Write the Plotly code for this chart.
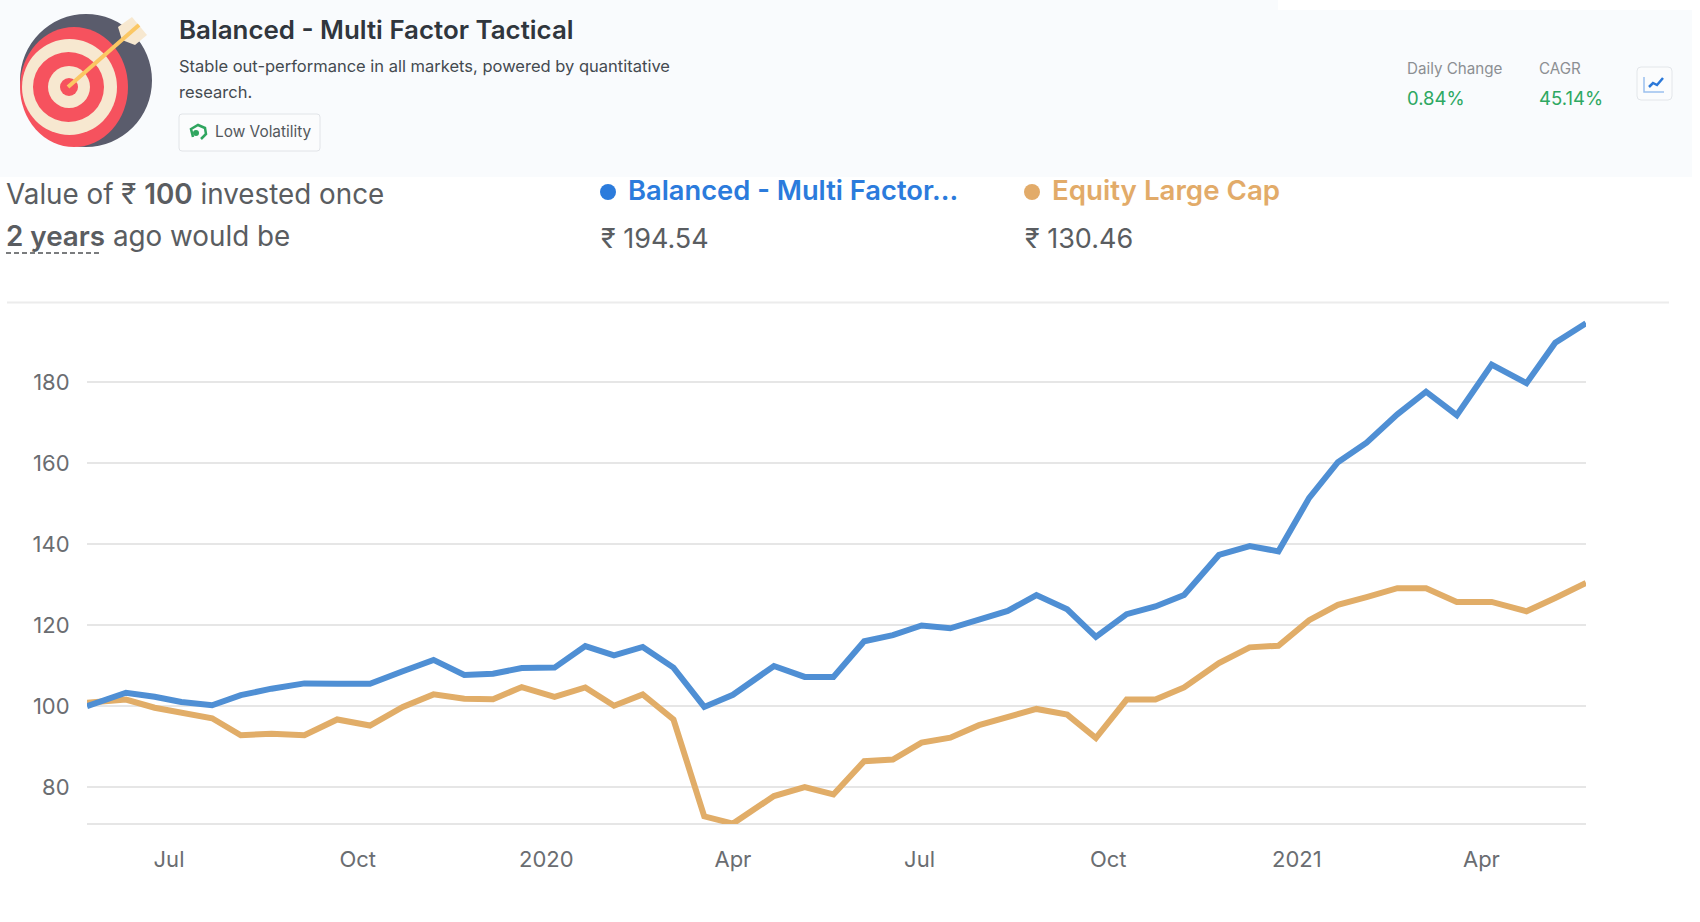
import plotly.graph_objects as go

dates = ["2019-05-22","2019-06-10","2019-06-24","2019-07-07","2019-07-22","2019-08-05","2019-08-20","2019-09-05","2019-09-21","2019-10-07","2019-10-23","2019-11-07","2019-11-22","2019-12-06","2019-12-20","2020-01-05","2020-01-20","2020-02-03","2020-02-17","2020-03-03","2020-03-18","2020-04-01","2020-04-21","2020-05-06","2020-05-20","2020-06-04","2020-06-18","2020-07-02","2020-07-16","2020-07-30","2020-08-13","2020-08-27","2020-09-11","2020-09-25","2020-10-10","2020-10-24","2020-11-07","2020-11-24","2020-12-09","2020-12-23","2021-01-07","2021-01-21","2021-02-04","2021-02-19","2021-03-05","2021-03-20","2021-04-06","2021-04-23","2021-05-07","2021-05-22"]
balanced = [100,103.3,102.3,101,100.2,102.7,104.3,105.6,105.5,105.5,108.6,111.4,107.7,108,109.4,109.5,114.8,112.5,114.6,109.5,99.8,102.8,109.9,107.2,107.2,116,117.5,119.9,119.2,121.2,123.5,127.4,123.9,117.1,122.7,124.6,127.4,137.3,139.5,138.2,151.4,160.2,165,172,177.6,171.8,184.3,179.7,189.7,194.5]
equity = [100.8,101.6,99.6,98.5,97,92.8,93.2,92.8,96.7,95.2,99.8,102.9,101.8,101.7,104.7,102.3,104.6,100.1,102.9,96.7,72.8,71,77.8,80,78.2,86.4,86.8,91,92.2,95.3,97.2,99.3,97.9,92.1,101.6,101.6,104.6,110.6,114.5,114.9,121.2,125,126.9,129.1,129.1,125.7,125.7,123.4,126.7,130.4]
x_tick_dates = ["2019-07-01","2019-10-01","2020-01-01","2020-04-01","2020-07-01","2020-10-01","2021-01-01","2021-04-01"]
x_tick_labels = ["Jul","Oct","2020","Apr","Jul","Oct","2021","Apr"]
y_ticks = [80,100,120,140,160,180]

W, H = 1700, 922
L, R, T, B = 87, 1586, 290, 824
FONT = "Inter, 'Noto Sans', sans-serif"

def px(x): return (x - L) / (R - L)
def py(y): return (B - y) / (B - T)

def rect(x0, y0, x1, y1, fill, line=None, lw=1, rx=0):
    if rx:
        x0r, x1r, y0r, y1r = x0 + rx, x1 - rx, y0 + rx, y1 - rx
        path = (f"M {px(x0r)} {py(y0)} L {px(x1r)} {py(y0)} Q {px(x1)} {py(y0)} {px(x1)} {py(y0r)} "
                f"L {px(x1)} {py(y1r)} Q {px(x1)} {py(y1)} {px(x1r)} {py(y1)} L {px(x0r)} {py(y1)} "
                f"Q {px(x0)} {py(y1)} {px(x0)} {py(y1r)} L {px(x0)} {py(y0r)} Q {px(x0)} {py(y0)} {px(x0r)} {py(y0)} Z")
        return dict(type="path", xref="paper", yref="paper", path=path, fillcolor=fill,
                    line=dict(color=line or "rgba(0,0,0,0)", width=lw))
    return dict(type="rect", xref="paper", yref="paper", x0=px(x0), x1=px(x1), y0=py(y0), y1=py(y1),
                fillcolor=fill, line=dict(color=line or "rgba(0,0,0,0)", width=lw if line else 0))

def oval(x0, y0, x1, y1, fill):
    return dict(type="circle", xref="paper", yref="paper", x0=px(x0), x1=px(x1), y0=py(y0), y1=py(y1),
                fillcolor=fill, line=dict(width=0))

def seg(pts, color, width, dash="solid"):
    path = "M " + " L ".join(f"{px(a)} {py(b)}" for a, b in pts)
    return dict(type="path", xref="paper", yref="paper", path=path,
                line=dict(color=color, width=width, dash=dash))

def poly(pts, fill):
    path = "M " + " L ".join(f"{px(a)} {py(b)}" for a, b in pts) + " Z"
    return dict(type="path", xref="paper", yref="paper", path=path, fillcolor=fill, line=dict(width=0))

def text(x, y, s, size, color, weight=400, anchor="left"):
    return dict(xref="paper", yref="paper", x=px(x), y=py(y), text=s, showarrow=False, xanchor=anchor,
                yanchor="middle", borderpad=0, borderwidth=0, align="left",
                font=dict(family=FONT, size=size, color=color, weight=weight))

def semi(s):
    return f'<span style="font-weight:600">{s}</span>'

shapes = [
    rect(0, 0, 1692, 177, "#f9fbfd"),
    rect(1278, 0, 1700, 10, "#ffffff"),
    oval(20, 14, 152, 147, "#5a5c6c"),
    oval(20, 27, 128, 147, "#f6525e"),
    oval(22, 39, 117, 135, "#f7e8d0"),
    oval(33, 52, 104, 122, "#f6525e"),
    oval(48, 66, 90, 108, "#f7e8d0"),
    oval(60, 78, 78, 96, "#f6525e"),
    poly([(118, 27), (132, 17), (147, 35), (135, 45), (122, 40)], "#f7e8d0"),
    seg([(68, 87), (139, 25)], "#fbc763", 4),
    rect(179, 114, 320, 151, "#fbfcfd", "#e1e4e8", 1, 3),
    seg([(193, 137), (191, 129), (198, 125), (205, 128), (206, 134), (201, 139)], "#2fa55f", 2.5),
    oval(193, 130, 199, 136, "#2fa55f"),
    rect(1637, 67, 1672, 100, "#fbfcfd", "#e3e6ea", 1, 4),
    seg([(1644, 77), (1644, 92), (1664, 92)], "#9cc0ee", 1.5),
    seg([(1649, 87), (1653, 83), (1657, 85), (1663, 78)], "#2b78d8", 2.5),
    dict(type="line", xref="paper", yref="paper", x0=px(7), x1=px(1669), y0=py(302.5), y1=py(302.5),
         line=dict(color="#ececec", width=2)),
    seg([(6, 253), (100, 253)], "#4f5154", 1.5, "5px,3px"),
    oval(600, 184, 616, 200, "#2b7bdc"),
    oval(1024, 184, 1040, 200, "#e2ab69"),
    dict(type="line", xref="paper", yref="paper", x0=0, x1=1, y0=py(824), y1=py(824),
         line=dict(color="#e6e6e6", width=2), layer="below"),
]

annotations = [
    text(178.5, 30, "Balanced - Multi Factor Tactical", 25.9, "#30363d", 600),
    text(178.5, 66, "Stable out-performance in all markets, powered by quantitative", 16.5, "#444a50"),
    text(178.5, 92, "research.", 16.5, "#444a50"),
    text(215, 132, "Low Volatility", 15.4, "#53585c"),
    text(1407, 68.5, "Daily Change", 15.2, "#8c8f93"),
    text(1539, 68.5, "CAGR", 15.2, "#8c8f93"),
    text(1407, 98.5, "0.84%", 18.5, "#2ea862"),
    text(1539, 98.5, "45.14%", 18.5, "#2ea862"),
    text(6, 194, f"Value of ₹ {semi('100')} invested once", 27.8, "#5a5d61"),
    text(6, 236, f"{semi('2 years')} ago would be", 27.8, "#5a5d61"),
    text(628, 190, "Balanced - Multi Factor...", 27.3, "#2b7bdc", 600),
    text(1052, 190, "Equity Large Cap", 27.7, "#e2ab69", 600),
    text(600.5, 238, "₹ 194.54", 27, "#5a5d61"),
    text(1024.5, 238, "₹ 130.46", 27, "#5a5d61"),
]

fig = go.Figure()
fig.add_trace(go.Scatter(x=dates, y=equity, mode="lines", name="Equity Large Cap",
                         line=dict(color="#e1ad68", width=6)))
fig.add_trace(go.Scatter(x=dates, y=balanced, mode="lines", name="Balanced - Multi Factor Tactical",
                         line=dict(color="#4f8fd4", width=6)))

fig.update_layout(
    width=W, height=H, autosize=False,
    margin=dict(l=L, r=W - R, t=T, b=H - B, pad=0),
    paper_bgcolor="white", plot_bgcolor="white", showlegend=False,
    font=dict(family=FONT, color="#66696d"),
    shapes=shapes, annotations=annotations,
    xaxis=dict(type="date", range=["2019-05-22", "2021-05-22"], tickmode="array",
               tickvals=x_tick_dates, ticktext=x_tick_labels, showgrid=False, zeroline=False,
               showline=False, ticks="outside", ticklen=16, tickcolor="rgba(0,0,0,0)",
               tickfont=dict(size=22, color="#6a6d71")),
    yaxis=dict(range=[70.9, 202.7], tickmode="array", tickvals=y_ticks, showgrid=True,
               gridcolor="#e6e6e6", gridwidth=2, zeroline=False, showline=False,
               ticks="outside", ticklen=12, tickcolor="rgba(0,0,0,0)",
               tickfont=dict(size=22, color="#6a6d71")),
)
fig.write_html("out.html", config=dict(displayModeBar=False),
               post_script="document.body.style.margin='0';document.body.style.overflow='hidden';")
